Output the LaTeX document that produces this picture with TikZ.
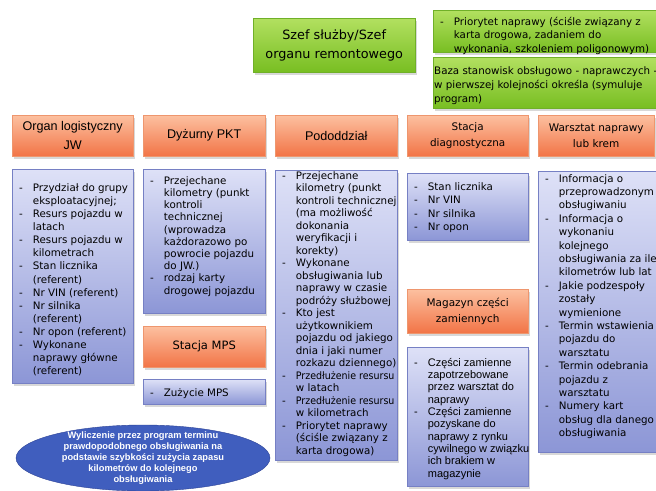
\documentclass[tikz,border=0pt]{standalone}
\usepackage{fontspec}
\usepackage{graphicx}
\setmainfont{DejaVu Sans}
\newfontfamily\arial{Liberation Sans}
\usetikzlibrary{shapes.geometric,shadows}

\definecolor{pomGora}{RGB}{252,192,160}
\definecolor{pomDol}{RGB}{242,116,70}
\definecolor{pomRam}{RGB}{238,150,110}
\definecolor{nieGora}{RGB}{222,225,247}
\definecolor{nieDol}{RGB}{140,150,214}
\definecolor{nieRam}{RGB}{118,128,196}
\definecolor{zielGora}{RGB}{178,224,96}
\definecolor{zielDol}{RGB}{120,190,34}
\definecolor{zielRam}{RGB}{112,176,40}
\definecolor{elipsa}{RGB}{64,94,190}
\definecolor{elipsaRam}{RGB}{44,66,150}

\tikzset{
  cien/.style={drop shadow={opacity=0.3, shadow xshift=1.5pt, shadow yshift=-2.5pt}},
  naglowek/.style={anchor=north west, inner sep=0pt, align=center, draw=pomRam,
    top color=pomGora, bottom color=pomDol, cien},
  lista/.style={anchor=north west, inner sep=0pt, draw=nieRam,
    top color=nieGora, bottom color=nieDol, cien},
  zielony/.style={anchor=north west, inner sep=0pt, draw=zielRam,
    top color=zielGora, bottom color=zielDol, cien},
}

% one line of a list: with a dash, or continued
\newcommand{\pkt}[1]{-&#1\\}
\newcommand{\dal}[1]{&#1\\}
% box contents: width, height, top gap, lines
\newcommand{\wykaz}[4]{\parbox[t][#2][t]{#1}{\vspace*{#3}\hspace*{7pt}%
  \begin{tabular}[t]{@{}l@{\hspace{10pt}}l@{}}#4\end{tabular}}}

\begin{document}
\begin{tikzpicture}[x=1pt, y=-1pt]

    % Background and size
    \fill[white] (0,0) rectangle (656,490);
    \useasboundingbox (0,0) rectangle (656,490);

    % Draw the top box
    \node[zielony, minimum width=162pt, minimum height=54pt, align=center,
      font=\fontsize{12.8}{19}\selectfont] (szef) at (253,18)
      {Szef służby/Szef\\organu remontowego};

    % Draw the two notes on the right
    \node[zielony, font=\fontsize{10.3}{13.3}\selectfont] (priorytet) at (433,10)
      {\wykaz{227pt}{42pt}{6pt}{%
        \pkt{Priorytet naprawy (ściśle związany z}
        \dal{karta drogowa, zadaniem do}
        \dal{wykonania, szkoleniem poligonowym)}}};
    \node[zielony, font=\fontsize{10.3}{13.7}\selectfont] (baza) at (433,57)
      {\parbox[t][51pt][t]{227pt}{\vspace*{8pt}\hspace*{1pt}%
        \begin{tabular}[t]{@{}l@{}}Baza stanowisk obsługowo - naprawczych -\\
        w pierwszej kolejności określa (symuluje\\program)\end{tabular}}};

    % Draw the column headers
    \node[naglowek, minimum width=121pt, minimum height=41pt,
      font=\arial\fontsize{12.6}{19}\selectfont] (logistyka) at (12,115)
      {Organ logistyczny\\JW};
    \node[naglowek, minimum width=122pt, minimum height=41pt,
      font=\arial\fontsize{12.6}{19}\selectfont] (dyzurny) at (143,115)
      {Dyżurny PKT};
    \node[naglowek, minimum width=122pt, minimum height=41pt,
      font=\arial\fontsize{12.6}{19}\selectfont] (pododdzial) at (275,115)
      {Pododdział};
    \node[naglowek, minimum width=121pt, minimum height=41pt,
      font=\fontsize{10.4}{16}\selectfont] (diagnostyka) at (407,115)
      {Stacja\\diagnostyczna};
    \node[naglowek, minimum width=116pt, minimum height=41pt,
      font=\fontsize{10.5}{16}\selectfont] (warsztat) at (538,115)
      {Warsztat naprawy\\lub krem};

    % Draw the lists under the headers
    \node[lista, font=\fontsize{10.3}{13.1}\selectfont] (logistykaLista) at (12,169)
      {\wykaz{121pt}{214pt}{13pt}{%
        \pkt{Przydział do grupy}
        \dal{eksploatacyjnej;}
        \pkt{Resurs pojazdu w}
        \dal{latach}
        \pkt{Resurs pojazdu w}
        \dal{kilometrach}
        \pkt{Stan licznika}
        \dal{(referent)}
        \pkt{Nr VIN (referent)}
        \pkt{Nr silnika}
        \dal{(referent)}
        \pkt{Nr opon (referent)}
        \pkt{Wykonane}
        \dal{naprawy główne}
        \dal{(referent)}}};

    \node[lista, font=\fontsize{10.3}{12.2}\selectfont] (dyzurnyLista) at (143,169)
      {\wykaz{122pt}{144pt}{6.5pt}{%
        \pkt{Przejechane}
        \dal{kilometry (punkt}
        \dal{kontroli}
        \dal{technicznej}
        \dal{(wprowadza}
        \dal{każdorazowo po}
        \dal{powrocie pojazdu}
        \dal{do JW.)}
        \pkt{rodzaj karty}
        \dal{drogowej pojazdu}}};

    \node[lista, font=\fontsize{10.3}{12.5}\selectfont] (pododdzialLista) at (275,170)
      {\wykaz{122pt}{290pt}{0.5pt}{%
        \pkt{Przejechane}
        \dal{kilometry (punkt}
        \dal{kontroli technicznej}
        \dal{(ma możliwość}
        \dal{dokonania}
        \dal{weryfikacji i}
        \dal{korekty)}
        \pkt{Wykonane}
        \dal{obsługiwania lub}
        \dal{naprawy w czasie}
        \dal{podróży służbowej}
        \pkt{Kto jest}
        \dal{użytkownikiem}
        \dal{pojazdu od jakiego}
        \dal{dnia i jaki numer}
        \dal{rozkazu dziennego)}
        \pkt{\scalebox{0.92}[1]{Przedłużenie resursu}}
        \dal{w latach}
        \pkt{\scalebox{0.92}[1]{Przedłużenie resursu}}
        \dal{w kilometrach}
        \pkt{Priorytet naprawy}
        \dal{(ściśle związany z}
        \dal{karta drogowa)}}};

    \node[lista, font=\fontsize{10.3}{13.3}\selectfont] (diagnostykaLista) at (407,173)
      {\wykaz{121pt}{67pt}{8pt}{%
        \pkt{Stan licznika}
        \pkt{Nr VIN}
        \pkt{Nr silnika}
        \pkt{Nr opon}}};

    \node[lista, font=\fontsize{10.3}{13.4}\selectfont] (warsztatLista) at (538,171)
      {\wykaz{122pt}{281pt}{1.6pt}{%
        \pkt{Informacja o}
        \dal{przeprowadzonym}
        \dal{obsługiwaniu}
        \pkt{Informacja o}
        \dal{wykonaniu}
        \dal{kolejnego}
        \dal{obsługiwania za ile}
        \dal{kilometrów lub lat}
        \pkt{Jakie podzespoły}
        \dal{zostały}
        \dal{wymienione}
        \pkt{Termin wstawienia}
        \dal{pojazdu do}
        \dal{warsztatu}
        \pkt{Termin odebrania}
        \dal{pojazdu z}
        \dal{warsztatu}
        \pkt{Numery kart}
        \dal{obsług dla danego}
        \dal{obsługiwania}}};

    % Draw the MPS station
    \node[naglowek, minimum width=122pt, minimum height=41pt,
      font=\fontsize{11.5}{16}\selectfont] (mps) at (143,326) {Stacja MPS};
    \node[lista, font=\fontsize{10.3}{13}\selectfont] (mpsLista) at (143,379)
      {\wykaz{122pt}{25pt}{8pt}{\pkt{Zużycie MPS}}};

    % Draw the spare parts store
    \node[naglowek, minimum width=121pt, minimum height=44pt,
      font=\fontsize{10.5}{16}\selectfont] (magazyn) at (407,289)
      {Magazyn części\\zamiennych};
    \node[lista, font=\arial\fontsize{11}{12.3}\selectfont] (magazynLista) at (407,347)
      {\wykaz{121pt}{139pt}{10.5pt}{%
        \pkt{Części zamienne}
        \dal{zapotrzebowane}
        \dal{przez warsztat do}
        \dal{naprawy}
        \pkt{Części zamienne}
        \dal{pozyskane do}
        \dal{naprawy z rynku}
        \dal{cywilnego w związku}
        \dal{ich brakiem w}
        \dal{magazynie}}};

    % Draw the ellipse with the calculation
    \node[ellipse, draw=elipsaRam, fill=elipsa, minimum width=254pt,
      minimum height=66pt, inner sep=0pt] (wyliczenie) at (143,458) {};
    \node[text=white, align=center, font=\arial\bfseries\fontsize{9.3}{11}\selectfont]
      (wyliczenieTekst) at (wyliczenie.center)
      {Wyliczenie przez program terminu\\prawdopodobnego obsługiwania na\\
       podstawie szybkości zużycia zapasu\\kilometrów do kolejnego\\obsługiwania};
\end{tikzpicture}
\end{document}
